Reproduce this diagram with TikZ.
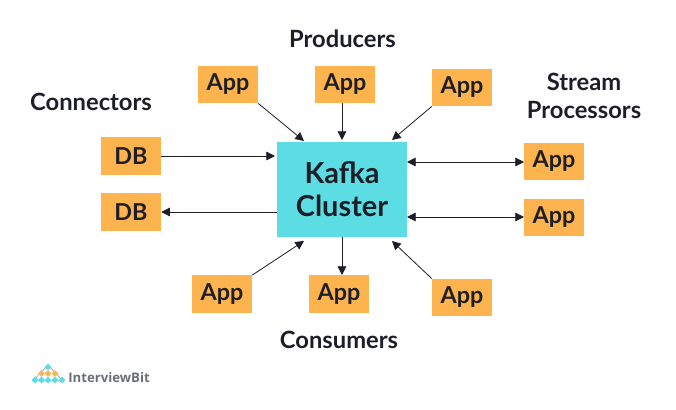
\documentclass[tikz,border=0pt]{standalone}
\usepackage{fontspec}
\setmainfont{Lato}
\newfontfamily\logofont{Open Sans}
\usetikzlibrary{arrows.meta}
\definecolor{boxorange}{HTML}{FDB44E}
\definecolor{kafkacyan}{HTML}{5CDDE3}
\definecolor{inkdark}{HTML}{1E1E28}
\definecolor{logogray}{HTML}{6B6F76}
\tikzset{
  x=0.75pt,y=-0.75pt,
  appbox/.style={fill=boxorange,minimum width=45pt,minimum height=28pt,inner sep=0pt,text=inkdark,font=\fontsize{17.5}{17.5}\selectfont\bfseries},
  kafkabox/.style={fill=kafkacyan,minimum width=97.5pt,minimum height=71.5pt,inner sep=0pt,align=center,text=inkdark,font=\fontsize{21.7}{25}\selectfont\bfseries},
  heading/.style={inner sep=0pt,align=center,text=inkdark,font=\fontsize{17.8}{20.5}\selectfont\bfseries},
  link/.style={draw=inkdark,line width=0.6pt,-{Triangle[length=6.5pt,width=6.5pt]}},
  duplex/.style={draw=inkdark,line width=0.6pt,{Triangle[length=6.5pt,width=6.5pt]}-{Triangle[length=6.5pt,width=6.5pt]}},
}
\begin{document}
\begin{tikzpicture}
\useasboundingbox (0,0) rectangle (676,410);
\fill[white] (0,0) rectangle (676,410);
\node[kafkabox] (kafka) at (342,189.5) {Kafka\\Cluster};
\node[appbox] (t1) at (228,84.5) {App};
\node[appbox] (t2) at (345,84.5) {App};
\node[appbox] (t3) at (462,87.5) {App};
\node[appbox] (d1) at (131,156) {DB};
\node[appbox] (d2) at (131,212) {DB};
\node[appbox] (r1) at (554,161.5) {App};
\node[appbox] (r2) at (554,217.5) {App};
\node[appbox] (b1) at (222,294) {App};
\node[appbox] (b2) at (339,294) {App};
\node[appbox] (b3) at (462,297.5) {App};
\node[heading] (hp) at (342.5,39) {Producers};
\node[heading] (hc) at (91,102) {Connectors};
\node[heading] (hs) at (584,96) {Stream\\Processors};
\node[heading] (hk) at (339,340) {Consumers};
\coordinate (kt1) at (304,141);
\coordinate (kt2) at (342,140);
\coordinate (kt3) at (392,140);
\coordinate (kl1) at (275,156);
\coordinate (kb1) at (304,241);
\coordinate (kb3) at (392,241);
\coordinate (bt2) at (342,275);
\coordinate (kr1) at (407,162);
\coordinate (kr2) at (407,217);
\coordinate (ks2) at (342,237);
\coordinate (kl2) at (277,212);
\coordinate (t2s) at (342,103);
\coordinate (r1w) at (524,162);
\coordinate (r2w) at (524,217);
\draw[link] (t1.south east) -- (kt1);
\draw[link] (t2s) -- (kt2);
\draw[link] (t3.south west) -- (kt3);
\draw[link] (d1.east) -- (kl1);
\draw[link] (kl2) -- (d2.east);
\draw[duplex] (kr1) -- (r1w);
\draw[duplex] (kr2) -- (r2w);
\draw[link] (b1.north east) -- (kb1);
\draw[link] (ks2) -- (bt2);
\draw[link] (b3.north west) -- (kb3);
% logo
\draw[logogray!60,line width=0.6pt] (48,365) -- (33,381) -- (63,381) -- cycle;
\foreach \px/\py/\pc in {48/367/kafkacyan,41.5/373.5/boxorange,48/373.5/boxorange,55/373.5/boxorange,35/380/kafkacyan,41.5/380/kafkacyan,48/380/kafkacyan,55/380/kafkacyan,62/380/kafkacyan}{
  \fill[\pc] (\px-3.4,\py) -- (\px,\py-3.4) -- (\px+3.4,\py) -- (\px,\py+3.4) -- cycle;
}
\node[anchor=west,inner sep=0pt,text=logogray,font=\logofont\fontsize{9.9}{12}\selectfont\bfseries] (logo) at (68,378) {InterviewBit};
\end{tikzpicture}
\end{document}
